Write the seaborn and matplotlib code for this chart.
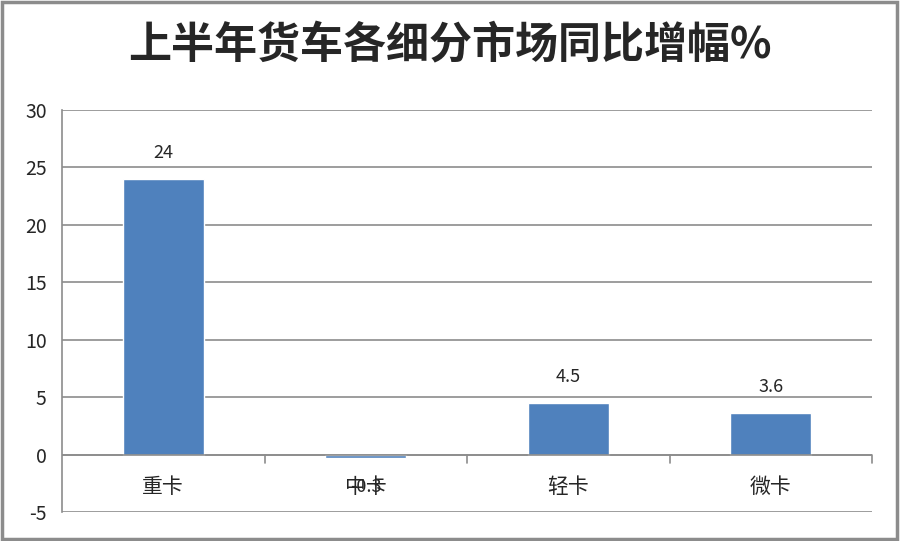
import pandas as pd
import matplotlib.pyplot as plt
import seaborn as sns
from matplotlib.patches import Rectangle

categories = ["重卡", "中卡", "轻卡", "微卡"]
growth = [24, -0.3, 4.5, 3.6]
value_labels = ["24", "-0.3", "4.5", "3.6"]
y_ticks = [-5, 0, 5, 10, 15, 20, 25, 30]

data = pd.DataFrame({"Category": categories, "Growth": growth})

sns.set_style("white")
plt.rcParams['font.family'] = ['Noto Sans CJK SC', 'DejaVu Sans']

fig = plt.figure(figsize=(9, 5.41), dpi=100)
ax = fig.add_axes([62/900, 29/541, 810/900, 402/541])

sns.barplot(x="Category", y="Growth", data=data, color="#4F81BD",
            width=0.4, saturation=1, ax=ax, zorder=3)

ax.set_xlim(-0.5, 3.5)
ax.set_ylim(-5, 30)
ax.set_yticks(y_ticks)
ax.set_yticklabels([str(t) for t in y_ticks], fontsize=14)
ax.yaxis.grid(True, color="#8c8c8c", linewidth=1.2, zorder=0)
ax.set_xlabel("")
ax.set_ylabel("")

for s in ["top", "right", "bottom"]:
    ax.spines[s].set_visible(False)
ax.spines["left"].set_color("#8c8c8c")
ax.spines["left"].set_linewidth(1.2)
ax.tick_params(axis="y", length=5, color="#8c8c8c", width=1.2, pad=6)

# zero axis line with category boundary ticks
ax.axhline(0, color="#8c8c8c", linewidth=1.2, zorder=4)
ax.set_xticks(range(len(categories)))
ax.set_xticklabels([])
ax.tick_params(axis="x", length=0)
for b in [0.5, 1.5, 2.5, 3.5]:
    ax.plot([b, b], [0, -0.7], color="#8c8c8c", linewidth=1.2, clip_on=False, zorder=4)

for i, c in enumerate(categories):
    ax.text(i, -2.8, c, ha="center", va="center", fontsize=15)

# the negative value label sits on top of its category name, as in the original
for i, v in enumerate(growth):
    if v >= 0:
        ax.text(i, v + 1.5, value_labels[i], ha="center", va="bottom", fontsize=13)
    else:
        ax.text(i, -2.8, value_labels[i], ha="center", va="center", fontsize=13)

fig.text(0.5, 1 - 45/541, "上半年货车各细分市场同比增幅%", ha="center", va="center",
         fontsize=31, fontweight="bold")

fig.patches.append(Rectangle((0.002, 0.003), 0.995, 0.993, transform=fig.transFigure,
                             fill=False, edgecolor="#8c8c8c", linewidth=2.5))

plt.savefig("out.png", dpi=100)
